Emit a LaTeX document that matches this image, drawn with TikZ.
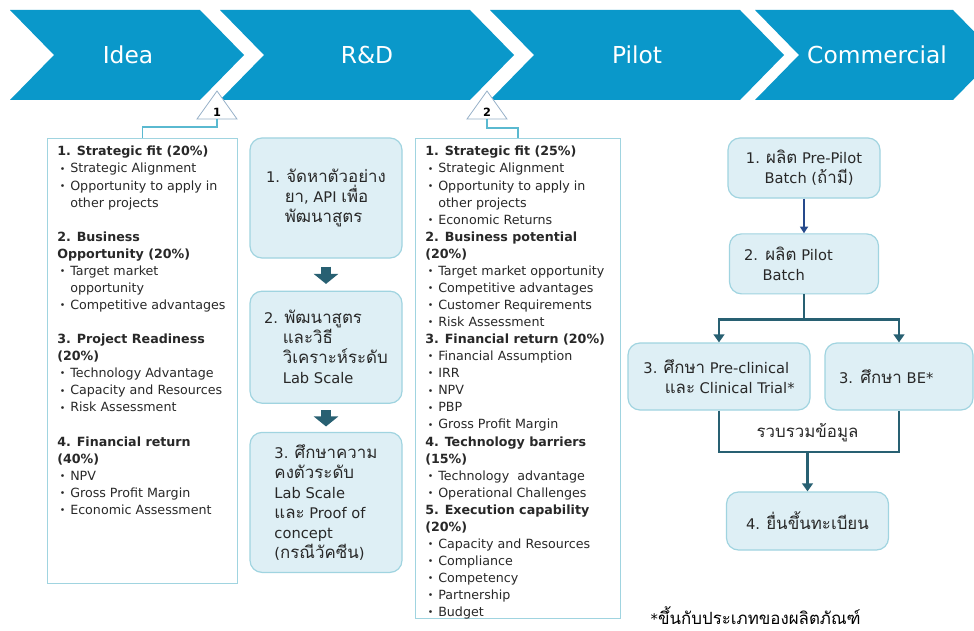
\documentclass[tikz,border=0pt]{standalone}
\usepackage{fontspec}
\setmainfont{DejaVu Sans}
\newfontfamily\thaifont[Script=Thai, Scale=1.15]{Loma}
\usetikzlibrary{arrows.meta, positioning}
\definecolor{chevblue}{RGB}{10,152,202}
\definecolor{boxline}{RGB}{160,212,224}
\definecolor{boxfill}{RGB}{222,239,245}
\definecolor{flowteal}{RGB}{40,96,114}
\definecolor{navyline}{RGB}{38,74,140}
\definecolor{linkteal}{RGB}{90,185,208}
\definecolor{trigray}{RGB}{150,176,200}
\definecolor{txtgray}{RGB}{40,40,40}
\newcommand{\critbul}{\makebox[9.75pt][l]{\hspace{2pt}\raisebox{0.6pt}{\fontsize{7}{8}\selectfont\textbullet}}}
\newcommand{\critind}{\hspace*{9.75pt}}
\newcommand{\thaiw}[1]{{\thaifont #1}}

\begin{document}
\begin{tikzpicture}[x=0.75pt, y=-0.75pt,
		chev/.style = {fill=chevblue},
		phase/.style = {text=white, font=\fontsize{17.5}{20}\selectfont},
		crit/.style = {draw=boxline, line width=0.9pt, fill=white, anchor=north west, inner sep=0pt},
		crittext/.style = {anchor=north west, inner sep=0pt, align=left, text=txtgray, font=\fontsize{9.5}{12.8}\selectfont},
		task/.style = {draw=boxline, fill=boxfill, line width=0.9pt, rounded corners=9pt, align=left, text=txtgray, font=\fontsize{11}{15}\selectfont, inner sep=0pt},
		tri/.style = {draw=trigray, fill=white, line width=0.6pt},
		num/.style = {font=\fontsize{8.5}{10}\selectfont\bfseries, inner sep=0pt},
		link/.style = {draw=linkteal, line width=1pt},
		flow/.style = {draw=flowteal, line width=2.2pt},
		flowarrow/.style = {flow, -{Triangle[width=8pt,length=6pt]}},
		bigarrow/.style = {draw=flowteal, line width=7.5pt, -{Triangle[width=18pt,length=7.5pt]}},
		navarrow/.style = {draw=navyline, line width=1.6pt, -{Triangle[width=6pt,length=5pt]}}
		]
		\fill[white] (0,0) rectangle (974,631);
		\path[use as bounding box] (0,0) rectangle (974,631);
		\begin{scope}
			\clip (0,0) rectangle (974,631);
			\foreach \a/\b in {10/200, 220/470, 490/740, 755/953}
				\fill[chev] (\a,10) -- (\b,10) -- (\b+44,55) -- (\b,100) -- (\a,100) -- (\a+44,55) -- cycle;
		\end{scope}
		\node (idea) [phase] at (128,55) {Idea};
		\node (rd) [phase] at (367,55) {R\&D};
		\node (pilot) [phase] at (637,55) {Pilot};
		\node (comm) [phase] at (877,55) {Commercial};
		
		\draw[tri] (197,119) -- (217,91) -- (237,119) -- cycle;
		\draw[tri] (467,119) -- (487,91) -- (507,119) -- cycle;
		\node (n1) [num] at (217,112) {1};
		\node (n2) [num] at (487,112) {2};
		\coordinate (t1) at (217,119);
		\coordinate (t2) at (487,119);
		
		\node (ideabox) [crit, minimum width=142.5pt, minimum height=333.75pt] at (47,138) {};
		\node (pilotbox) [crit, minimum width=153.75pt, minimum height=360pt] at (415,138) {};
		\draw[link] (t1) -- ++(0,8) -| (ideabox.north);
		\draw[link] (t2) -- ++(0,9) -| (pilotbox.north);
		
		\node (ideatext) [crittext] at (57,146) {\textbf{1. Strategic fit (20\%)}\\
			\critbul Strategic Alignment\\
			\critbul Opportunity to apply in\\
			\critind other projects\\[12.8pt]
			\textbf{2. Business}\\
			\textbf{Opportunity (20\%)}\\
			\critbul Target market\\
			\critind opportunity\\
			\critbul Competitive advantages\\[12.8pt]
			\textbf{3. Project Readiness}\\
			\textbf{(20\%)}\\
			\critbul Technology Advantage\\
			\critbul Capacity and Resources\\
			\critbul Risk Assessment\\[12.8pt]
			\textbf{4. Financial return}\\
			\textbf{(40\%)}\\
			\critbul NPV\\
			\critbul Gross Profit Margin\\
			\critbul Economic Assessment};
		\node (pilottext) [crittext] at (425,146) {\textbf{1. Strategic fit (25\%)}\\
			\critbul Strategic Alignment\\
			\critbul Opportunity to apply in\\
			\critind other projects\\
			\critbul Economic Returns\\
			\textbf{2. Business potential}\\
			\textbf{(20\%)}\\
			\critbul Target market opportunity\\
			\critbul Competitive advantages\\
			\critbul Customer Requirements\\
			\critbul Risk Assessment\\
			\textbf{3. Financial return (20\%)}\\
			\critbul Financial Assumption\\
			\critbul IRR\\
			\critbul NPV\\
			\critbul PBP\\
			\critbul Gross Profit Margin\\
			\textbf{4. Technology barriers}\\
			\textbf{(15\%)}\\
			\critbul Technology~ advantage\\
			\critbul Operational Challenges\\
			\textbf{5. Execution capability}\\
			\textbf{(20\%)}\\
			\critbul Capacity and Resources\\
			\critbul Compliance\\
			\critbul Competency\\
			\critbul Partnership\\
			\critbul Budget};
		
		\node (r1) [task, minimum width=114pt, minimum height=90pt] at (326,198) {1. \thaiw{จัดหาตัวอย่าง}\\
			\hspace*{14pt}\thaiw{ยา}, API \thaiw{เพื่อ}\\
			\hspace*{14pt}\thaiw{พัฒนาสูตร}};
		\node (r2) [task, minimum width=114pt, minimum height=84pt, below=24pt of r1] {2. \thaiw{พัฒนาสูตร}\\
			\hspace*{14pt}\thaiw{และวิธี}\\
			\hspace*{14pt}\thaiw{วิเคราะห์ระดับ}\\
			\hspace*{14pt}Lab Scale};
		\node (r3) [task, minimum width=114pt, minimum height=105pt, below=21pt of r2] {3. \thaiw{ศึกษาความ}\\
			\thaiw{คงตัวระดับ}\\
			Lab Scale\\
			\thaiw{และ} Proof of\\
			concept\\
			(\thaiw{กรณีวัคซีน})};
		\draw[bigarrow, shorten <=6pt, shorten >=5pt] (r1) -- (r2);
		\draw[bigarrow, shorten <=5pt, shorten >=4pt] (r2) -- (r3);
		
		\node (c1) [task, minimum width=114pt, minimum height=45pt] at (804,168) {1. \thaiw{ผลิต} Pre-Pilot\\
			\hspace*{14pt}Batch (\thaiw{ถ้ามี})};
		\node (c2) [task, minimum width=111.75pt, minimum height=45pt, text width=90pt, below=26pt of c1] {2. \thaiw{ผลิต} Pilot\\
			\hspace*{14pt}Batch};
		\node (c3a) [task, minimum width=136.5pt, minimum height=50.25pt] at (719,376.5) {3. \thaiw{ศึกษา} Pre-clinical\\
			\hspace*{16pt}\thaiw{และ} Clinical Trial*};
		\node (c3b) [task, minimum width=111pt, minimum height=50.25pt, text width=90pt] at (899,376.5) {3. \thaiw{ศึกษา} BE*};
		\node (c4) [task, minimum width=121.5pt, minimum height=43.5pt] at (807.5,521) {4. \thaiw{ยื่นขึ้นทะเบียน}};
		\coordinate (merge) at (807.5,452);
		
		\draw[navarrow] (c1) -- (c2);
		\draw[flowarrow] (c2.south) -- ++(0,25) -| (c3a.north);
		\draw[flowarrow] (c2.south) -- ++(0,25) -| (c3b.north);
		\draw[flow] (c3a.south) |- (merge) -| (c3b.south);
		\draw[flowarrow] (merge) -- (c4.north);
		\node (collect) [text=txtgray, font=\fontsize{11}{13}\selectfont, above=4pt of merge] {\thaiw{รวบรวมข้อมูล}};
		\node (note) [anchor=west, text=black, font=\fontsize{11}{13}\selectfont] at (646,616) {*\thaiw{ขึ้นกับประเภทของผลิตภัณฑ์}};
	\end{tikzpicture}
\end{document}
